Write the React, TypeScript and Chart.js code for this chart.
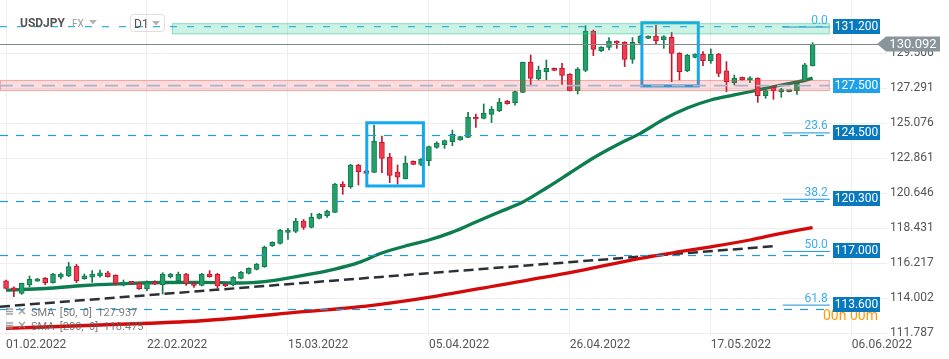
import React, { useEffect, useRef } from 'react';
import { Chart, registerables } from 'chart.js';

Chart.register(...registerables);

// ---- axis ticks ----
const dateTickIndex = [0, 18, 36, 54, 72, 90, 108];
const dateTickLabels = ['01.02.2022', '22.02.2022', '15.03.2022', '05.04.2022', '26.04.2022', '17.05.2022', '06.06.2022'];
const priceTicks = [111.787, 114.002, 116.217, 118.431, 120.646, 122.861, 125.076, 127.291, 129.506];

// ---- USDJPY D1 candles (one per session, from 01.02.2022) ----
const opens = [
  115.11, 114.67, 114.31, 114.84, 115.09, 115.26, 114.99, 115.33, 115.41, 116.04,
  115.24, 115.33, 115.41, 115.62, 115.45, 114.90, 114.96, 114.94, 114.59, 115.03,
  114.86, 115.37, 115.11, 115.54, 114.94, 114.82, 115.54, 115.51, 114.88, 114.84,
  115.26, 115.58, 115.83, 116.00, 117.31, 117.48, 118.17, 118.24, 118.89, 118.49,
  119.06, 119.23, 119.44, 121.23, 121.06, 122.43, 122.06, 121.97, 123.87, 122.92,
  121.99, 121.57, 122.67, 122.48, 122.71, 123.55, 123.72, 123.91, 124.02, 124.19,
  125.45, 125.39, 125.64, 125.87, 126.47, 126.36, 127.03, 128.93, 127.88, 128.34,
  128.55, 128.55, 128.17, 127.14, 128.43, 130.92, 129.67, 129.88, 130.28, 130.20,
  129.12, 130.14, 130.45, 130.60, 130.35, 130.52, 129.50, 128.39, 129.25, 129.46,
  129.04, 129.46, 128.39, 127.65, 127.98, 127.82, 127.92, 126.82, 127.35, 127.08,
  127.08, 127.14, 127.75, 128.70,
];
const highs = [
  115.15, 114.73, 114.96, 115.41, 115.26, 115.32, 115.58, 115.62, 116.27, 116.15,
  115.54, 115.75, 115.79, 115.71, 115.49, 115.16, 114.98, 114.99, 115.11, 115.11,
  115.62, 115.58, 115.66, 115.58, 114.99, 115.58, 115.75, 115.58, 114.92, 115.37,
  115.70, 115.93, 116.21, 117.31, 117.58, 118.36, 118.43, 119.06, 118.99, 119.38,
  119.38, 119.59, 121.27, 121.38, 122.48, 122.48, 122.10, 124.97, 124.27, 123.17,
  122.44, 123.00, 122.70, 122.84, 123.64, 123.91, 124.02, 124.65, 124.26, 125.77,
  125.66, 126.30, 126.13, 126.66, 126.53, 127.12, 128.95, 129.40, 128.70, 129.08,
  128.58, 128.87, 128.22, 128.60, 131.25, 130.98, 129.93, 130.50, 130.30, 130.24,
  130.50, 130.64, 130.62, 131.30, 130.62, 130.83, 129.55, 129.44, 129.48, 129.61,
  129.78, 129.50, 128.98, 128.13, 128.00, 128.03, 127.96, 127.29, 127.44, 127.29,
  127.14, 127.65, 128.87, 130.18,
];
const lows = [
  114.60, 114.10, 114.25, 114.73, 115.07, 114.86, 114.95, 115.22, 115.37, 114.99,
  115.20, 115.01, 115.33, 115.33, 114.84, 114.78, 114.92, 114.57, 114.48, 114.86,
  114.27, 115.28, 114.99, 114.82, 114.69, 114.78, 115.33, 114.63, 114.74, 114.78,
  115.22, 115.54, 115.79, 115.96, 117.28, 117.43, 117.73, 118.15, 118.36, 118.45,
  119.02, 119.12, 119.42, 120.58, 120.96, 121.17, 121.88, 121.95, 121.95, 121.32,
  121.23, 121.55, 122.45, 122.40, 122.39, 123.49, 123.49, 123.66, 124.00, 124.17,
  124.82, 125.35, 125.12, 125.81, 126.28, 126.23, 127.01, 127.46, 127.82, 127.84,
  128.40, 127.54, 127.12, 126.93, 128.34, 129.36, 129.61, 129.72, 129.82, 128.66,
  128.87, 130.09, 130.43, 130.09, 129.82, 127.71, 127.82, 128.34, 129.22, 128.72,
  128.87, 128.03, 127.08, 127.50, 127.80, 127.65, 126.40, 126.66, 126.59, 126.72,
  127.06, 126.91, 127.70, 128.70,
];
const closes = [
  114.63, 114.52, 114.94, 115.20, 115.24, 114.99, 115.54, 115.52, 116.00, 115.11,
  115.43, 115.54, 115.62, 115.37, 114.94, 115.03, 114.94, 114.61, 114.99, 114.90,
  115.54, 115.54, 115.54, 114.94, 114.82, 115.54, 115.37, 114.78, 114.78, 115.32,
  115.64, 115.89, 116.17, 117.22, 117.54, 118.32, 118.32, 118.89, 118.49, 119.12,
  119.31, 119.52, 121.23, 121.06, 122.43, 122.01, 121.91, 123.95, 122.86, 121.78,
  121.66, 122.54, 122.48, 122.79, 123.60, 123.81, 123.98, 124.38, 124.23, 125.45,
  125.35, 125.71, 125.96, 126.40, 126.32, 127.08, 128.93, 127.92, 128.43, 128.55,
  128.43, 128.11, 127.14, 128.51, 130.92, 129.76, 129.88, 130.28, 130.14, 129.12,
  130.20, 130.60, 130.60, 130.31, 130.56, 129.50, 128.35, 129.40, 129.46, 129.04,
  129.46, 128.24, 127.71, 127.92, 127.82, 127.92, 126.82, 127.14, 127.14, 127.18,
  127.12, 127.61, 128.77, 130.092,
];

// ---- moving averages (session index -> value) ----
const sma50Index = [0, 5, 10, 15, 20, 25, 30, 33, 36, 39, 42, 45, 48, 51, 54, 57, 60, 63, 66, 69, 72, 75, 78, 81, 84, 87, 90, 93, 96, 99, 102, 103];
const sma50Values = [114.52, 114.62, 114.81, 114.92, 115.00, 115.01, 114.97, 115.06, 115.28, 115.54, 115.85, 116.26, 116.87, 117.31, 117.69, 118.19, 118.83, 119.46, 120.09, 120.98, 121.93, 122.88, 123.70, 124.44, 125.33, 126.04, 126.55, 126.87, 127.18, 127.50, 127.79, 127.94];
const sma200Index = [0, 12, 25, 38, 46, 55, 63, 72, 81, 86, 90, 95, 99, 103];
const sma200Values = [112.10, 112.31, 112.58, 113.15, 113.51, 114.14, 114.84, 115.62, 116.53, 116.95, 117.26, 117.69, 118.11, 118.48];
const sma50Last = '127.937';
const sma200Last = '118.475';

// ---- trend line ----
const trendIndex = [-0.77, 98.4];
const trendValues = [113.47, 117.31];

// ---- drawn levels / zones ----
const levelPrices = [131.2, 127.5, 124.5, 120.3, 117.0, 113.6];
const levelTexts = ['131.200', '127.500', '124.500', '120.300', '117.000', '113.600'];
const fibPrices = [131.2, 124.5, 120.3, 117.0, 113.6];
const fibTexts = ['0.0', '23.6', '38.2', '50.0', '61.8'];
const fibDashedPrices = [124.35, 120.14, 116.72, 113.30];
const resistanceZone = [130.71, 131.41];
const resistanceLine = 131.19;
const supportZone = [127.12, 127.82];
const supportLine = 127.46;
const greenZoneFromIndex = 21.2;
const levelsToIndex = 105.2;
const fibLineFromIndex = 99.2;
const highlightFrom = [46.07, 81.2];
const highlightTo = [53.3, 88.4];
const highlightLow = [121.11, 127.44];
const highlightHigh = [125.11, 131.44];
const lastPrice = 130.092;

const FONT = 'Roboto, "Open Sans", sans-serif';

const overlayPlugin = {
  id: 'overlay',
  afterDatasetsDraw(chart: any) {
    const { ctx, chartArea: a, scales } = chart;
    const X = (v: number) => scales.x.getPixelForValue(v);
    const Y = (v: number) => scales.y.getPixelForValue(v);
    const lvlEnd = X(levelsToIndex);

    ctx.save();
    ctx.beginPath();
    ctx.rect(a.left, a.top, a.right - a.left, a.bottom - a.top);
    ctx.clip();

    // highlight boxes
    ctx.strokeStyle = '#12a9f1';
    ctx.lineWidth = 3;
    for (let k = 0; k < highlightFrom.length; k++) {
      const x0 = X(highlightFrom[k]);
      const x1 = X(highlightTo[k]);
      const y0 = Y(highlightHigh[k]);
      const y1 = Y(highlightLow[k]);
      ctx.strokeRect(x0, y0, x1 - x0, y1 - y0);
    }

    // fibonacci labels + short lines
    ctx.font = `12px ${FONT}`;
    ctx.textAlign = 'right';
    ctx.textBaseline = 'alphabetic';
    for (let k = 0; k < fibPrices.length; k++) {
      const y = Y(fibPrices[k]);
      ctx.strokeStyle = '#1b8fd6';
      ctx.lineWidth = 1;
      ctx.beginPath();
      ctx.moveTo(X(fibLineFromIndex), y + 0.5);
      ctx.lineTo(lvlEnd, y + 0.5);
      ctx.stroke();
      ctx.fillStyle = '#3aaef0';
      ctx.fillText(fibTexts[k], lvlEnd - 2, y - 3);
    }

    // fib dashed lines
    ctx.setLineDash([8, 8]);
    ctx.strokeStyle = '#1f9be0';
    ctx.lineWidth = 1.2;
    for (const p of fibDashedPrices) {
      const y = Math.round(Y(p)) + 0.5;
      ctx.beginPath();
      ctx.moveTo(a.left, y);
      ctx.lineTo(lvlEnd, y);
      ctx.stroke();
    }
    ctx.setLineDash([]);

    // zones
    {
      const x0 = X(greenZoneFromIndex);
      const y0 = Y(resistanceZone[1]);
      const y1 = Y(resistanceZone[0]);
      ctx.fillStyle = 'rgba(40,200,140,0.235)';
      ctx.fillRect(x0, y0, lvlEnd - x0, y1 - y0);
      ctx.strokeStyle = 'rgba(40,200,140,0.45)';
      ctx.lineWidth = 1;
      ctx.strokeRect(x0 + 0.5, y0 + 0.5, lvlEnd - x0 - 1, y1 - y0 - 1);
    }
    {
      const x0 = a.left;
      const y0 = Y(supportZone[1]);
      const y1 = Y(supportZone[0]);
      ctx.fillStyle = 'rgba(240,60,60,0.18)';
      ctx.fillRect(x0, y0, lvlEnd - x0, y1 - y0);
      ctx.strokeStyle = 'rgba(240,60,60,0.35)';
      ctx.lineWidth = 1;
      ctx.strokeRect(x0 + 0.5, y0 + 0.5, lvlEnd - x0 - 1, y1 - y0 - 1);
    }
    // zone middle dashed lines
    ctx.setLineDash([7, 10]);
    ctx.strokeStyle = '#35b0de';
    ctx.lineWidth = 1.2;
    ctx.beginPath();
    ctx.moveTo(a.left, Y(resistanceLine));
    ctx.lineTo(lvlEnd, Y(resistanceLine));
    ctx.stroke();
    ctx.setLineDash([13, 8]);
    ctx.strokeStyle = '#a7b4cf';
    ctx.lineWidth = 1.6;
    ctx.beginPath();
    ctx.moveTo(a.left, Y(supportLine));
    ctx.lineTo(lvlEnd, Y(supportLine));
    ctx.stroke();
    ctx.setLineDash([]);

    // last price line
    const ly = Math.round(Y(lastPrice)) + 0.5;
    ctx.strokeStyle = '#7c898f';
    ctx.lineWidth = 1;
    ctx.beginPath();
    ctx.moveTo(a.left, ly);
    ctx.lineTo(a.right, ly);
    ctx.stroke();
    ctx.restore();

    // ---- top-left header ----
    ctx.save();
    ctx.textAlign = 'left';
    ctx.textBaseline = 'alphabetic';
    ctx.fillStyle = '#555';
    ctx.font = `bold 12px ${FONT}`;
    ctx.fillText('USDJPY', a.left + 20, 27);
    ctx.font = `10px ${FONT}`;
    ctx.fillStyle = '#9a9a9a';
    ctx.fillText('FX', a.left + 72, 27);
    ctx.fillStyle = '#b3b3b3';
    ctx.beginPath();
    ctx.moveTo(a.left + 89, 20); ctx.lineTo(a.left + 97, 20); ctx.lineTo(a.left + 93, 24.5); ctx.closePath(); ctx.fill();
    ctx.strokeStyle = '#dedede';
    ctx.lineWidth = 1;
    ctx.beginPath();
    (ctx as any).roundRect(a.left + 130.5, 14.5, 34, 17, 3);
    ctx.stroke();
    ctx.fillStyle = '#555';
    ctx.font = `12px ${FONT}`;
    ctx.fillText('D1', a.left + 134, 28);
    ctx.fillStyle = '#b3b3b3';
    ctx.beginPath();
    ctx.moveTo(a.left + 152, 21); ctx.lineTo(a.left + 160, 21); ctx.lineTo(a.left + 156, 25.5); ctx.closePath(); ctx.fill();

    // ---- indicator legend ----
    const legendRows = [`SMA  [50,  0]  ${sma50Last}`, `SMA  [200,  0]  ${sma200Last}`];
    const legendY = [316, 330];
    for (let k = 0; k < 2; k++) {
      const by = legendY[k];
      ctx.strokeStyle = 'rgba(140,140,140,0.8)';
      ctx.lineWidth = 1.5;
      for (let j = 0; j < 3; j++) {
        ctx.beginPath();
        ctx.moveTo(a.left + 6, by - 7 + j * 2.5);
        ctx.lineTo(a.left + 13, by - 7 + j * 2.5);
        ctx.stroke();
      }
      ctx.beginPath();
      ctx.moveTo(a.left + 19, by - 8); ctx.lineTo(a.left + 25, by - 2);
      ctx.moveTo(a.left + 25, by - 8); ctx.lineTo(a.left + 19, by - 2);
      ctx.stroke();
      ctx.fillStyle = 'rgba(100,100,100,0.85)';
      ctx.font = `11px ${FONT}`;
      ctx.fillText(legendRows[k], a.left + 31, by);
    }

    // ---- countdown ----
    ctx.fillStyle = '#ff9800';
    ctx.font = `14px ${FONT}`;
    ctx.fillText('00h 00m', a.right - 64, 320);

    // ---- level boxes ----
    ctx.font = `12px ${FONT}`;
    ctx.textAlign = 'center';
    ctx.textBaseline = 'middle';
    for (let k = 0; k < levelPrices.length; k++) {
      const y = Y(levelPrices[k]);
      const x0 = a.right - 54;
      const w = 47;
      ctx.fillStyle = levelTexts[k] === '127.500' ? '#1ea0ea' : '#0879bf';
      ctx.fillRect(x0, Math.round(y - 7.5), w, 15);
      ctx.fillStyle = '#ffffff';
      ctx.fillText(levelTexts[k], x0 + w / 2, Math.round(y - 7.5) + 8);
    }

    // ---- last price tag ----
    const ty = Y(lastPrice);
    const tx = a.right - 10;
    ctx.fillStyle = '#8a959b';
    ctx.beginPath();
    ctx.moveTo(tx, ty);
    ctx.lineTo(tx + 9, ty - 7.5);
    ctx.lineTo(tx + 63, ty - 7.5);
    ctx.lineTo(tx + 63, ty + 7.5);
    ctx.lineTo(tx + 9, ty + 7.5);
    ctx.closePath();
    ctx.fill();
    ctx.fillStyle = '#ffffff';
    ctx.font = `13px ${FONT}`;
    ctx.fillText(lastPrice.toFixed(3), tx + 36, ty + 1);
    ctx.restore();
  },
};

export default function App() {
  const ref = useRef<HTMLCanvasElement>(null);

  useEffect(() => {
    document.body.style.margin = '0';
    const canvas = ref.current;
    if (!canvas) return;

    const idx = opens.map((_, i) => i);
    const up = idx.map((i) => closes[i] >= opens[i]);
    const bodyData = idx.map((i) => ({ x: i, y: [opens[i], closes[i]] }));
    const wickData = idx.map((i) => ({ x: i, y: [lows[i], highs[i]] }));
    const bodyFill = up.map((u) => (u ? '#22a06b' : '#f23b4f'));
    const bodyBorder = up.map((u) => (u ? '#137a4b' : '#c2182e'));
    const wickColor = up.map((u) => (u ? '#137a4b' : '#c2182e'));

    const chart = new Chart(canvas, {
      type: 'bar',
      data: {
        datasets: [
          {
            type: 'bar',
            data: bodyData as any,
            backgroundColor: bodyFill,
            borderColor: bodyBorder,
            borderWidth: 1,
            borderSkipped: false,
            barThickness: 5,
            minBarLength: 2,
            grouped: false,
            order: 0,
          } as any,
          {
            type: 'bar',
            data: wickData as any,
            backgroundColor: wickColor,
            borderWidth: 0,
            barThickness: 1,
            grouped: false,
            order: 1,
          } as any,
          {
            type: 'line',
            data: sma50Index.map((x, k) => ({ x, y: sma50Values[k] })),
            borderColor: '#0b7d4e',
            borderWidth: 3.3,
            pointRadius: 0,
            cubicInterpolationMode: 'monotone',
            order: 3,
          } as any,
          {
            type: 'line',
            data: sma200Index.map((x, k) => ({ x, y: sma200Values[k] })),
            borderColor: '#d40a0a',
            borderWidth: 3.3,
            pointRadius: 0,
            cubicInterpolationMode: 'monotone',
            order: 4,
          } as any,
          {
            type: 'line',
            data: trendIndex.map((x, k) => ({ x, y: trendValues[k] })),
            borderColor: '#2b3036',
            borderWidth: 2.5,
            borderDash: [10, 5],
            pointRadius: 0,
            order: 5,
          } as any,
        ],
      },
      options: {
        responsive: true,
        maintainAspectRatio: false,
        animation: false,
        devicePixelRatio: 1,
        layout: { padding: 0 },
        plugins: { legend: { display: false }, tooltip: { enabled: false } },
        scales: {
          x: {
            type: 'linear',
            min: -0.77,
            max: 112.5,
            offset: false,
            grid: { offset: false, color: '#eeeeee', drawTicks: false, lineWidth: 1 },
            border: { display: false },
            ticks: {
              autoSkip: false,
              maxRotation: 0,
              minRotation: 0,
              align: 'start',
              padding: 2,
              color: '#555',
              font: { family: FONT, size: 12 },
              callback: (v: any) => {
                const k = dateTickIndex.indexOf(Number(v));
                return k >= 0 ? dateTickLabels[k] : '';
              },
            },
            afterBuildTicks: (s: any) => {
              s.ticks = dateTickIndex.map((v) => ({ value: v }));
            },
            afterFit: (s: any) => {
              s.height = 23;
              s.paddingLeft = 0;
            },
          },
          y: {
            type: 'linear',
            position: 'right',
            min: 111.614,
            max: 132.88,
            beginAtZero: false,
            grid: { color: '#eeeeee', drawTicks: false },
            border: { display: false },
            ticks: {
              padding: 3,
              color: '#555',
              font: { family: FONT, size: 12 },
              callback: (v: any) => Number(v).toFixed(3),
            },
            afterBuildTicks: (s: any) => {
              s.ticks = priceTicks.map((v) => ({ value: v }));
            },
            afterFit: (s: any) => {
              s.width = 62;
              s.paddingTop = 0;
              s.paddingBottom = 0;
            },
          },
        },
      } as any,
      plugins: [overlayPlugin],
    });

    return () => chart.destroy();
  }, []);

  return (
    <div style={{ position: 'relative', width: '949px', height: '359px', background: '#fff' }}>
      <canvas ref={ref} style={{ display: 'block' }} />
    </div>
  );
}
